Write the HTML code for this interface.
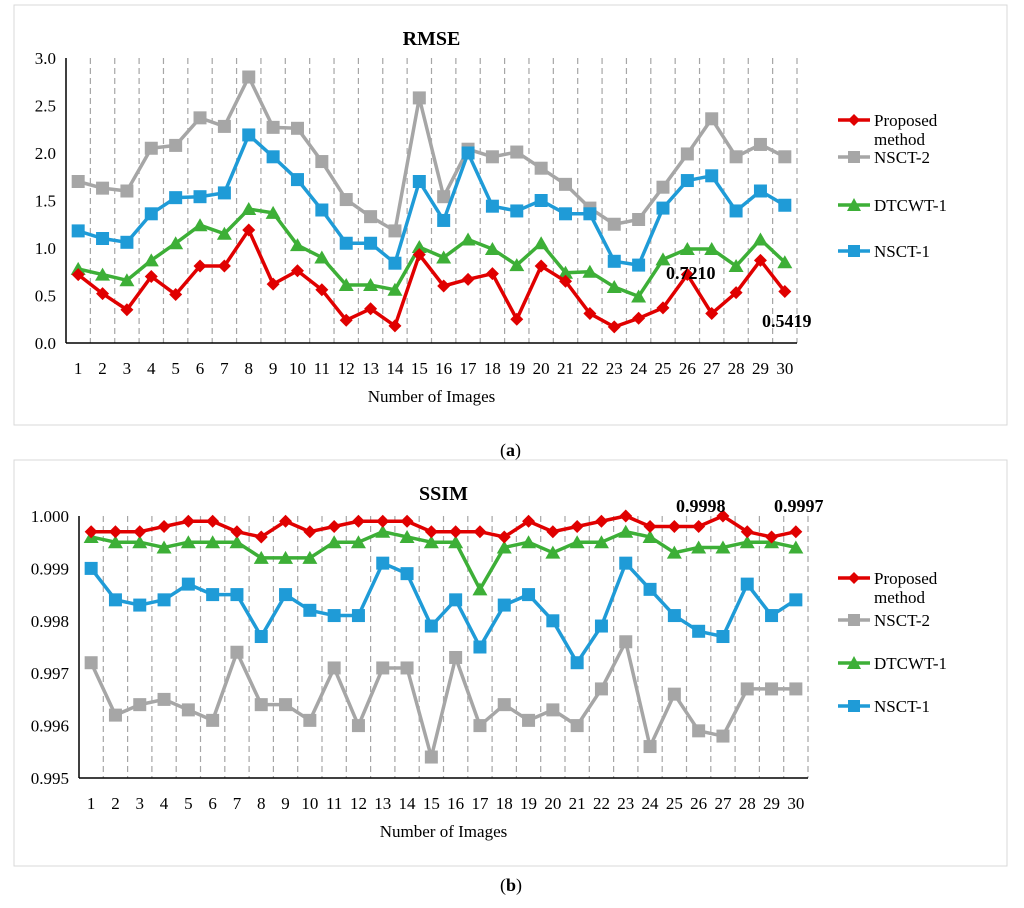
<!DOCTYPE html>
<html><head><meta charset="utf-8"><style>
body{margin:0;background:#fff;}
svg{display:block;font-family:"Liberation Serif",serif;}
</style></head><body>
<svg id="s" width="1024" height="908" xmlns="http://www.w3.org/2000/svg"></svg>
<script>
const cats=[];for(let i=1;i<=30;i++)cats.push(i);
const rmseProposed=[0.72,0.52,0.35,0.70,0.51,0.81,0.81,1.19,0.62,0.76,0.56,0.24,0.36,0.18,0.93,0.60,0.67,0.73,0.25,0.81,0.65,0.31,0.17,0.26,0.37,0.721,0.31,0.53,0.87,0.5419];
const rmseNSCT2=[1.70,1.63,1.60,2.05,2.08,2.37,2.28,2.80,2.27,2.26,1.91,1.51,1.33,1.18,2.58,1.54,2.04,1.96,2.01,1.84,1.67,1.42,1.25,1.30,1.64,1.99,2.36,1.96,2.09,1.96];
const rmseDTCWT1=[0.78,0.72,0.66,0.87,1.05,1.24,1.15,1.41,1.37,1.03,0.90,0.61,0.61,0.56,1.01,0.90,1.09,0.99,0.82,1.05,0.74,0.75,0.59,0.49,0.88,0.99,0.99,0.81,1.09,0.85];
const rmseNSCT1=[1.18,1.10,1.06,1.36,1.53,1.54,1.58,2.19,1.96,1.72,1.40,1.05,1.05,0.84,1.70,1.29,2.00,1.44,1.39,1.50,1.36,1.36,0.86,0.82,1.42,1.71,1.76,1.39,1.60,1.45];
const rmseTicks=["0.0","0.5","1.0","1.5","2.0","2.5","3.0"];
const ssimProposed=[.9997,.9997,.9997,.9998,.9999,.9999,.9997,.9996,.9999,.9997,.9998,.9999,.9999,.9999,.9997,.9997,.9997,.9996,.9999,.9997,.9998,.9999,1.0000,.9998,.9998,.9998,1.0000,.9997,.9996,.9997];
const ssimNSCT2=[.9972,.9962,.9964,.9965,.9963,.9961,.9974,.9964,.9964,.9961,.9971,.9960,.9971,.9971,.9954,.9973,.9960,.9964,.9961,.9963,.9960,.9967,.9976,.9956,.9966,.9959,.9958,.9967,.9967,.9967];
const ssimDTCWT1=[.9996,.9995,.9995,.9994,.9995,.9995,.9995,.9992,.9992,.9992,.9995,.9995,.9997,.9996,.9995,.9995,.9986,.9994,.9995,.9993,.9995,.9995,.9997,.9996,.9993,.9994,.9994,.9995,.9995,.9994];
const ssimNSCT1=[.9990,.9984,.9983,.9984,.9987,.9985,.9985,.9977,.9985,.9982,.9981,.9981,.9991,.9989,.9979,.9984,.9975,.9983,.9985,.9980,.9972,.9979,.9991,.9986,.9981,.9978,.9977,.9987,.9981,.9984];
const ssimTicks=["0.995","0.996","0.997","0.998","0.999","1.000"];

const S=document.getElementById('s');const NS="http://www.w3.org/2000/svg";
function mk(t,a,p){const e=document.createElementNS(NS,t);for(const k in a)e.setAttribute(k,a[k]);(p||S).appendChild(e);return e;}
function txt(x,y,s,a,p){const e=mk('text',Object.assign({x:x,y:y,'font-size':17,fill:'#000'},a),p);e.textContent=s;return e;}
const colors={p:'#e00000',n2:'#a6a6a6',d:'#3daf37',n1:'#1f9bd7'};

function chart(cfg){
  const g=mk('g',{});
  
  
  const fr=mk('rect',{x:cfg.px,y:cfg.py,width:cfg.pw,height:cfg.ph,fill:'#fff',stroke:'#d9d9d9','stroke-width':1},g);
  
  const L=cfg.L,R=cfg.R,T=cfg.T,B=cfg.B;
  const bw=(R-L)/30;
  const xs=i=>L+bw*(i+0.5);
  const ys=v=>B-(v-cfg.min)/(cfg.max-cfg.min)*(B-T);
  for(let i=1;i<=30;i++){const l=mk('line',{x1:L+bw*i,x2:L+bw*i,y1:T,y2:B,stroke:'#a6a6a6','stroke-dasharray':'6,4','stroke-width':1.2},g);
    }
  const ya=mk('line',{x1:L,x2:L,y1:T,y2:B,stroke:'#000','stroke-width':1.5},g);
  const xa=mk('line',{x1:L,x2:R,y1:B,y2:B,stroke:'#000','stroke-width':1.5},g);
  cfg.ticks.forEach(t=>{const e=txt(L-10,ys(parseFloat(t))+6,t,{'text-anchor':'end'},g);});
  cats.forEach((c,i)=>{const e=txt(xs(i),B+31,String(c),{'text-anchor':'middle'},g);});
  const xt=txt((L+R)/2,B+59,'Number of Images',{'text-anchor':'middle'},g);
  const tt=txt((L+R)/2,cfg.titleY,cfg.title,{'text-anchor':'middle','font-weight':'bold','font-size':20},g);
  const order=[['n2','square'],['n1','square'],['d','tri'],['p','dia']];
  order.forEach(([k,m])=>{
    const data=cfg.series[k];const c=colors[k];
    const pl=mk('polyline',{points:data.map((v,i)=>xs(i)+','+ys(v)).join(' '),fill:'none',stroke:c,'stroke-width':3.5,'stroke-linejoin':'round'},g);
    
    data.forEach((v,i)=>{const x=xs(i),y=ys(v);let e;
      if(m==='square')e=mk('rect',{x:x-6.5,y:y-6.5,width:13,height:13,fill:c},g);
      else if(m==='tri')e=mk('polygon',{points:`${x},${y-7} ${x+7.5},${y+6} ${x-7.5},${y+6}`,fill:c},g);
      else e=mk('polygon',{points:`${x},${y-6.5} ${x+6.5},${y} ${x},${y+6.5} ${x-6.5},${y}`,fill:c},g);
      });
  });
  cfg.anno.forEach(a=>{const e=txt(a.x,a.y,a.t,{'font-weight':'bold','font-size':18},g);});
  const leg=[['p','dia','Proposed',cfg.lg[0]],['n2','square','NSCT-2',cfg.lg[2]],['d','tri','DTCWT-1',cfg.lg[3]],['n1','square','NSCT-1',cfg.lg[4]]];
  leg.forEach(([k,m,lab,y])=>{const lg=mk('g',{},g);
    const c=colors[k],x=854;
    mk('line',{x1:838,x2:870,y1:y,y2:y,stroke:c,'stroke-width':3.5},lg);
    if(m==='square')mk('rect',{x:x-6,y:y-6,width:12,height:12,fill:c},lg);
    else if(m==='tri')mk('polygon',{points:`${x},${y-7} ${x+7},${y+6} ${x-7},${y+6}`,fill:c},lg);
    else mk('polygon',{points:`${x},${y-6} ${x+6},${y} ${x},${y+6} ${x-6},${y}`,fill:c},lg);
    txt(874,y+6,lab,{},lg);
    if(k==='p')txt(874,cfg.lg[1]+6,'method',{},lg);
  });
}
chart({name:'rmse-chart',px:14,py:5,pw:993,ph:420,L:66,R:797,T:58,B:343,min:0,max:3,ticks:rmseTicks,title:'RMSE',titleY:45,
  series:{p:rmseProposed,n2:rmseNSCT2,d:rmseDTCWT1,n1:rmseNSCT1},
  anno:[{x:666,y:279,t:'0.7210'},{x:762,y:327,t:'0.5419'}],lg:[120,139,157,205,251]});
chart({name:'ssim-chart',px:14,py:460,pw:993,ph:406,L:79,R:808,T:516,B:778,min:0.995,max:1.000,ticks:ssimTicks,title:'SSIM',titleY:500,
  series:{p:ssimProposed,n2:ssimNSCT2,d:ssimDTCWT1,n1:ssimNSCT1},
  anno:[{x:676,y:512,t:'0.9998'},{x:774,y:512,t:'0.9997'}],lg:[578,597,620,663,706]});
const a=txt(500,456,'',{'font-size':18});a.innerHTML='(<tspan font-weight="bold">a</tspan>)';
const b=txt(500,891,'',{'font-size':18});b.innerHTML='(<tspan font-weight="bold">b</tspan>)';
</script>
</body></html>
